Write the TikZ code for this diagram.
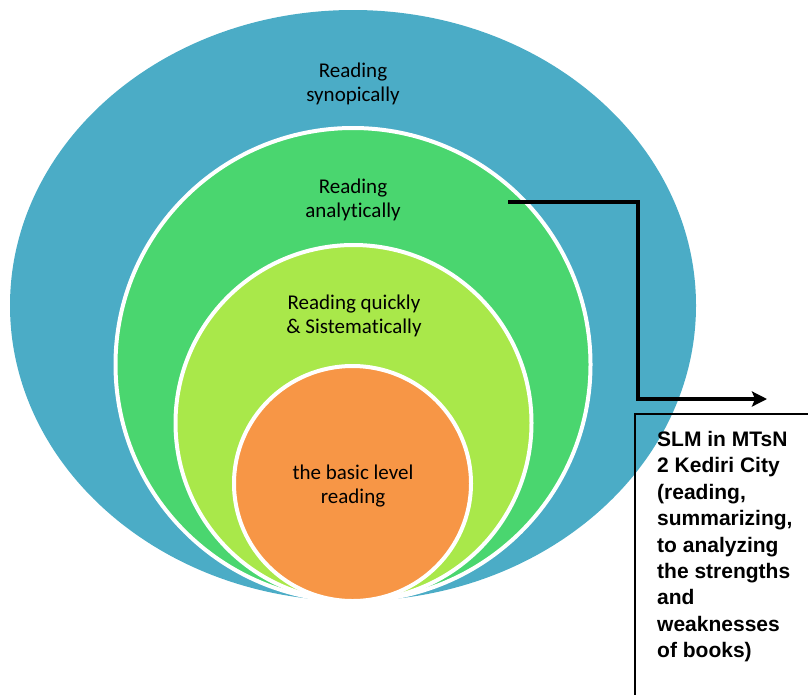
\documentclass[tikz,border=0pt]{standalone}
\usepackage{fontspec}
\setmainfont{Carlito}[Ligatures=NoCommon]
\newfontfamily\boxfont{Liberation Sans}
\usetikzlibrary{arrows.meta}
\definecolor{synblue}{HTML}{4BACC6}
\definecolor{anagreen}{HTML}{4AD66F}
\definecolor{quickgreen}{HTML}{A9E84A}
\definecolor{basicorange}{HTML}{F79646}
\begin{document}
\begin{tikzpicture}[x=1pt,y=-1pt,layer/.style={draw=white,line width=4pt},
ringtext/.style={align=center,inner sep=0pt,font=\fontsize{21}{24}\selectfont},
boxtext/.style={align=left,inner sep=0pt,font=\boxfont\bfseries\fontsize{21}{26.4}\selectfont},
conn/.style={line width=4.5pt,-{Stealth[length=15pt,width=15pt,inset=3pt]}}]
\clip (0,0) rectangle (808,694);
\fill[synblue] (353,305.5) ellipse [x radius=343,y radius=295.5];
\draw[layer,fill=anagreen] (353,364.5) ellipse [x radius=237.5,y radius=236.5];
\draw[layer,fill=quickgreen] (353.5,423) ellipse [x radius=178,y radius=178];
\draw[layer,fill=basicorange] (352.5,483.5) ellipse [x radius=118.5,y radius=117.5];
\node[ringtext] (synop) at (353,84) {Reading\\synopically};
\node[ringtext] (analyt) at (353,200) {Reading\\analytically};
\node[ringtext] (quick) at (354,315.5) {Reading quickly\\\& Sistematically};
\node[ringtext] (basic) at (353,486) {the basic level\\reading};
\coordinate (from) at (508,202);
\coordinate (turn) at (638,399);
\coordinate (to) at (767,399);
\draw[conn] (from) -| (turn) -- (to);
\node[draw,line width=2.5pt,outer sep=0pt,anchor=north west,minimum width=220pt,
minimum height=320pt] (frame) at (635,414) {};
\node[boxtext,anchor=north west] (slm) at (657,431) {SLM in MTsN\\2 Kediri City\\(reading,\\summarizing,\\to analyzing\\the strengths\\and\\weaknesses\\of books)};
\end{tikzpicture}
\end{document}
